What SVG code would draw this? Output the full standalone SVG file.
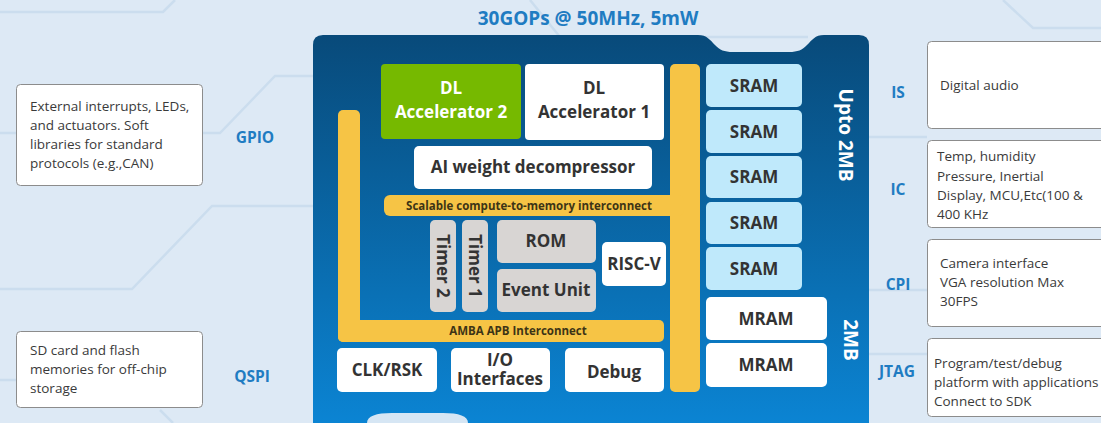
<svg xmlns="http://www.w3.org/2000/svg" width="1101" height="423" viewBox="0 0 1101 423">
<defs>
<linearGradient id="chipGrad" x1="0" y1="35" x2="0" y2="423" gradientUnits="userSpaceOnUse">
<stop offset="0" stop-color="#084a7a"/>
<stop offset="1" stop-color="#0b84d3"/>
</linearGradient>
<style>
text{font-family:"Open Sans","Liberation Sans",sans-serif;}
.bg{fill:#dde9f5;}
.trace{fill:none;stroke:#cbddee;stroke-width:2.5;}
.ext{fill:#ffffff;stroke:#8c8c8c;stroke-width:1;}
.extt{font-size:13.5px;fill:#3a3a3a;}
.lbl{font-size:15.5px;font-weight:700;fill:#1f7cc2;text-anchor:middle;}
.wbox{fill:#ffffff;}
.gbox{fill:#76b900;}
.sram{fill:#bfe9fb;}
.grey{fill:#d8d5d3;}
.bus{fill:#f6c445;}
.bt{font-size:17px;font-weight:700;fill:#333333;text-anchor:middle;}
.btw{font-size:17px;font-weight:700;fill:#ffffff;text-anchor:middle;}
.bus-t{font-size:11.5px;font-weight:700;fill:#3d3416;text-anchor:middle;}
.side{font-size:19px;font-weight:700;fill:#ffffff;text-anchor:middle;}
</style>
</defs>
<rect class="bg" x="0" y="0" width="1101" height="423"/>
<g id="connectors">
<path class="trace" d="M0 12 H163 L175 0"/>
<path class="trace" d="M530 0 L560 37 H808"/>
<path class="trace" d="M1003 0 L1033 28 H1101"/>
<path class="trace" d="M0 133 H16"/>
<path class="trace" d="M203 133 H220 L275 76 H313"/>
<path class="trace" d="M0 289 H132 L212 206 H313"/>
<path class="trace" d="M0 380 H16"/>
<path class="trace" d="M160 410 L173 423"/>
<path class="trace" d="M869 137 H927"/>
<path class="trace" d="M869 290 H927"/>
<path class="trace" d="M869 354 H927"/>
</g>
<text x="588" y="25" style="font-size:19px;font-weight:700;fill:#1f7cc2;text-anchor:middle;">30GOPs @ 50MHz, 5mW</text>
<g id="chip">
<path d="M323 35 H698 C707 35 710 40 715 45 C720 50 724 52 733 52 H789 C798 52 802 50 807 45 C812 40 815 35 824 35 H859 Q869 35 869 45 V430 H313 V45 Q313 35 323 35 Z" fill="url(#chipGrad)"/>
<path d="M367 423 C367 416 376 413 392 413 H443 C459 413 468 416 468 423 Z" fill="#d6e6f4"/>
</g>
<g id="bus-amba">
<rect class="bus" x="338" y="110" width="22" height="232" rx="5"/>
<rect class="bus" x="338" y="320" width="326" height="22" rx="5"/>
<text class="bus-t" x="518" y="335">AMBA APB Interconnect</text>
</g>
<g id="bus-scalable">
<rect class="bus" x="670" y="64" width="30" height="328" rx="5"/>
<rect class="bus" x="384" y="195" width="300" height="21" rx="6"/>
<text class="bus-t" x="529" y="210">Scalable compute-to-memory interconnect</text>
</g>
<g id="dl-acc-2">
<rect class="gbox" x="381" y="64" width="140" height="75" rx="4"/>
<text class="btw" x="451" y="94">DL</text>
<text class="btw" x="451" y="118">Accelerator 2</text>
</g>
<g id="dl-acc-1">
<rect class="wbox" x="525" y="64" width="139" height="76" rx="4"/>
<text class="bt" x="594" y="94">DL</text>
<text class="bt" x="594" y="118">Accelerator 1</text>
</g>
<g id="ai-weight">
<rect class="wbox" x="414" y="146" width="238" height="43" rx="5"/>
<text class="bt" x="533" y="173">AI weight decompressor</text>
</g>
<g id="timer-2">
<rect class="grey" x="430" y="220" width="26" height="92" rx="5"/>
<text class="bt" x="443" y="266" transform="rotate(90 443 266)" dy="6">Timer 2</text>
</g>
<g id="timer-1">
<rect class="grey" x="462" y="220" width="26" height="92" rx="5"/>
<text class="bt" x="475" y="266" transform="rotate(90 475 266)" dy="6">Timer 1</text>
</g>
<g id="rom">
<rect class="grey" x="497" y="220" width="99" height="43" rx="5"/>
<text class="bt" x="546" y="247">ROM</text>
</g>
<g id="event-unit">
<rect class="grey" x="497" y="269" width="99" height="43" rx="5"/>
<text class="bt" x="546" y="296">Event Unit</text>
</g>
<g id="risc-v">
<rect class="wbox" x="602" y="242" width="64" height="44" rx="5"/>
<text class="bt" x="634" y="270">RISC-V</text>
</g>
<g id="clk-rsk">
<rect class="wbox" x="337" y="348" width="100" height="44" rx="5"/>
<text class="bt" x="387" y="376">CLK/RSK</text>
</g>
<g id="io-interfaces">
<rect class="wbox" x="451" y="348" width="99" height="44" rx="5"/>
<text class="bt" x="500" y="366">I/O</text>
<text class="bt" x="500" y="385">Interfaces</text>
</g>
<g id="debug">
<rect class="wbox" x="565" y="348" width="99" height="44" rx="5"/>
<text class="bt" x="614" y="378">Debug</text>
</g>
<g id="sram-1"><rect class="sram" x="706" y="64" width="96" height="43" rx="5"/><text class="bt" x="754" y="92">SRAM</text></g>
<g id="sram-2"><rect class="sram" x="706" y="110" width="96" height="43" rx="5"/><text class="bt" x="754" y="138">SRAM</text></g>
<g id="sram-3"><rect class="sram" x="706" y="156" width="96" height="42" rx="5"/><text class="bt" x="754" y="183">SRAM</text></g>
<g id="sram-4"><rect class="sram" x="706" y="202" width="96" height="42" rx="5"/><text class="bt" x="754" y="229">SRAM</text></g>
<g id="sram-5"><rect class="sram" x="706" y="247" width="96" height="43" rx="5"/><text class="bt" x="754" y="275">SRAM</text></g>
<g id="mram-1"><rect class="wbox" x="706" y="297" width="121" height="43" rx="5"/><text class="bt" x="766" y="325">MRAM</text></g>
<g id="mram-2"><rect class="wbox" x="706" y="343" width="121" height="44" rx="5"/><text class="bt" x="766" y="371">MRAM</text></g>
<g id="sram-size">
<text class="side" x="846" y="135" transform="rotate(90 846 135)" dy="7">Upto 2MB</text>
</g>
<g id="mram-size">
<text class="side" x="851" y="340" transform="rotate(90 851 340)" dy="7">2MB</text>
</g>
<g id="gpio">
<rect class="ext" x="16.5" y="84.5" width="186" height="101" rx="4"/>
<text class="extt" x="30" y="111">External interrupts, LEDs,</text>
<text class="extt" x="30" y="130">and actuators. Soft</text>
<text class="extt" x="30" y="149">libraries for standard</text>
<text class="extt" x="30" y="168">protocols (e.g.,CAN)</text>
<text class="lbl" x="255" y="143">GPIO</text>
</g>
<g id="qspi">
<rect class="ext" x="16.5" y="331.5" width="186" height="76" rx="4"/>
<text class="extt" x="30" y="355">SD card and flash</text>
<text class="extt" x="30" y="374">memories for off-chip</text>
<text class="extt" x="30" y="393">storage</text>
<text class="lbl" x="252" y="382">QSPI</text>
</g>
<g id="is">
<rect class="ext" x="927.5" y="41.5" width="185" height="87" rx="4"/>
<text class="extt" x="940" y="90">Digital audio</text>
<text class="lbl" x="898" y="98">IS</text>
</g>
<g id="ic">
<rect class="ext" x="927.5" y="140.5" width="185" height="87" rx="4"/>
<text class="extt" x="937" y="161">Temp, humidity</text>
<text class="extt" x="937" y="181">Pressure, Inertial</text>
<text class="extt" x="937" y="200">Display, MCU,Etc(100 &amp;</text>
<text class="extt" x="937" y="219">400 KHz</text>
<text class="lbl" x="898" y="195">IC</text>
</g>
<g id="cpi">
<rect class="ext" x="927.5" y="239.5" width="185" height="87" rx="4"/>
<text class="extt" x="940" y="268">Camera interface</text>
<text class="extt" x="940" y="287">VGA resolution Max</text>
<text class="extt" x="940" y="306">30FPS</text>
<text class="lbl" x="898" y="290">CPI</text>
</g>
<g id="jtag">
<rect class="ext" x="927.5" y="338.5" width="185" height="78" rx="4"/>
<text class="extt" x="934" y="368">Program/test/debug</text>
<text class="extt" x="934" y="387">platform with applications</text>
<text class="extt" x="934" y="406">Connect to SDK</text>
<text class="lbl" x="897" y="377">JTAG</text>
</g>
</svg>
